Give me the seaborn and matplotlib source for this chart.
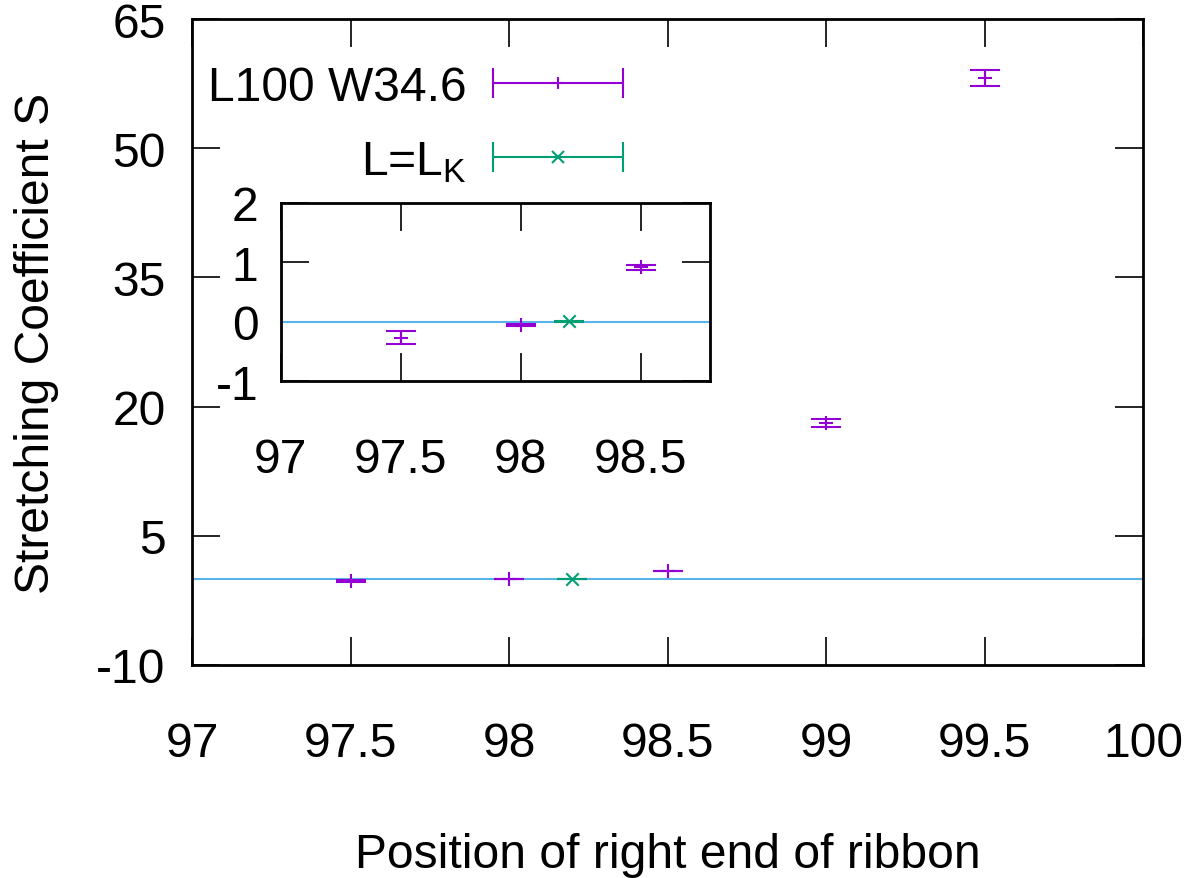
import matplotlib
matplotlib.use("Agg")
import matplotlib.pyplot as plt
import seaborn as sns
import pandas as pd
import numpy as np
from matplotlib.container import ErrorbarContainer
from matplotlib.legend_handler import HandlerErrorbar

# ---- data ----
pos_main = [97.5, 98.0, 98.5, 99.0, 99.5]
s_main = [-0.27, -0.05, 0.92, 18.12, 58.15]
s_main_err = [0.11, 0.02, 0.04, 0.45, 0.90]

pos_lk = [98.2]
s_lk = [0.01]
s_lk_err = [0.01]

label_main = "L100 W34.6"
label_lk = "L=L$_{\\mathregular{K}}$"

main_xticks = [97, 97.5, 98, 98.5, 99, 99.5, 100]
main_yticks = [-10, 5, 20, 35, 50, 65]
inset_xticks = [97, 97.5, 98, 98.5]
inset_yticks = [-1, 0, 1, 2]

PURPLE = "#9400D3"
GREEN = "#009E73"
BLUE = "#56B4E9"

sns.set_theme(style="white")
plt.rcParams["font.family"] = ["Liberation Sans", "DejaVu Sans"]
plt.rcParams["mathtext.fontset"] = "custom"
plt.rcParams["mathtext.rm"] = "Liberation Sans"
plt.rcParams["mathtext.it"] = "Liberation Sans:italic"

FS = 34.6
LW = 1.5

df_main = pd.DataFrame({"pos": pos_main, "S": s_main})
df_lk = pd.DataFrame({"pos": pos_lk, "S": s_lk})

fig = plt.figure(figsize=(11.92, 8.79), dpi=100)
ax = fig.add_axes([192 / 1192, 1 - 666 / 879, (1143 - 192) / 1192, (666 - 20) / 879])
axi = fig.add_axes([280.7 / 1192, 1 - 382.3 / 879, (710.3 - 280.7) / 1192, (382.3 - 204) / 879])


def draw(a, ypad):
    a.axhline(0, color=BLUE, lw=LW, zorder=1)
    a.errorbar(pos_main, s_main, yerr=s_main_err, fmt="none", ecolor=PURPLE,
               elinewidth=LW, capsize=10.8, capthick=LW, zorder=3)
    a.errorbar(pos_lk, s_lk, yerr=s_lk_err, fmt="none", ecolor=GREEN,
               elinewidth=LW, capsize=10.8, capthick=LW, zorder=3)
    sns.scatterplot(data=df_main, x="pos", y="S", marker="+", s=90, color=PURPLE,
                    linewidth=LW, ax=a, zorder=4, legend=False)
    sns.scatterplot(data=df_lk, x="pos", y="S", marker="x", s=80, color=GREEN,
                    linewidth=LW, ax=a, zorder=4, legend=False)
    a.set_xlabel("")
    a.set_ylabel("")
    for sp in a.spines.values():
        sp.set_visible(True)
        sp.set_color("black")
        sp.set_linewidth(2.0)
    a.tick_params(direction="in", length=20, width=1.2, color="black",
                  top=True, right=True, bottom=True, left=True,
                  labelsize=FS, labelcolor="black")
    a.tick_params(axis="x", pad=40)
    a.tick_params(axis="y", pad=ypad)
    a.set_facecolor("white")


draw(ax, 19)
ax.set_xlim(97, 100)
ax.set_ylim(-10, 65)
ax.set_xticks(main_xticks)
ax.set_xticklabels([f"{t:g}" for t in main_xticks])
ax.set_yticks(main_yticks)
ax.set_yticklabels([f"{t:g}" for t in main_yticks])
ax.set_xlabel("Position of right end of ribbon", fontsize=FS, color="black")
ax.set_ylabel("Stretching Coefficient S", fontsize=FS, color="black")
ax.xaxis.set_label_coords(0.5, -0.259)
ax.yaxis.set_label_coords(-0.14, 0.5)

draw(axi, 16)
axi.set_xlim(97, 98.79)
axi.set_ylim(-1, 2)
axi.set_xticks(inset_xticks)
axi.set_xticklabels([f"{t:g}" for t in inset_xticks])
axi.set_yticks(inset_yticks)
axi.set_yticklabels([f"{t:g}" for t in inset_yticks])

# legend proxies (error bar style key)
h_main = ax.errorbar([np.nan], [np.nan], xerr=[np.nan], fmt="+", color=PURPLE, ms=9, mew=LW,
                     elinewidth=LW, capsize=10.8, capthick=LW)
h_lk = ax.errorbar([np.nan], [np.nan], xerr=[np.nan], fmt="x", color=GREEN, ms=8, mew=LW,
                   elinewidth=LW, capsize=10.8, capthick=LW)
fs_px = FS / 72 * 100
leg = fig.legend([h_main, h_lk], [label_main, label_lk], loc="upper right",
                 bbox_to_anchor=(623 / 1192, 1 - 66 / 879), frameon=False,
                 markerfirst=False, fontsize=FS, borderpad=0, borderaxespad=0,
                 handlelength=130 / fs_px, handletextpad=26 / fs_px,
                 labelspacing=0.6, numpoints=1,
                 handler_map={ErrorbarContainer: HandlerErrorbar(xerr_size=65 / fs_px)})
for t in leg.get_texts():
    t.set_color("black")

fig.savefig("out.png", dpi=100, facecolor="white")
